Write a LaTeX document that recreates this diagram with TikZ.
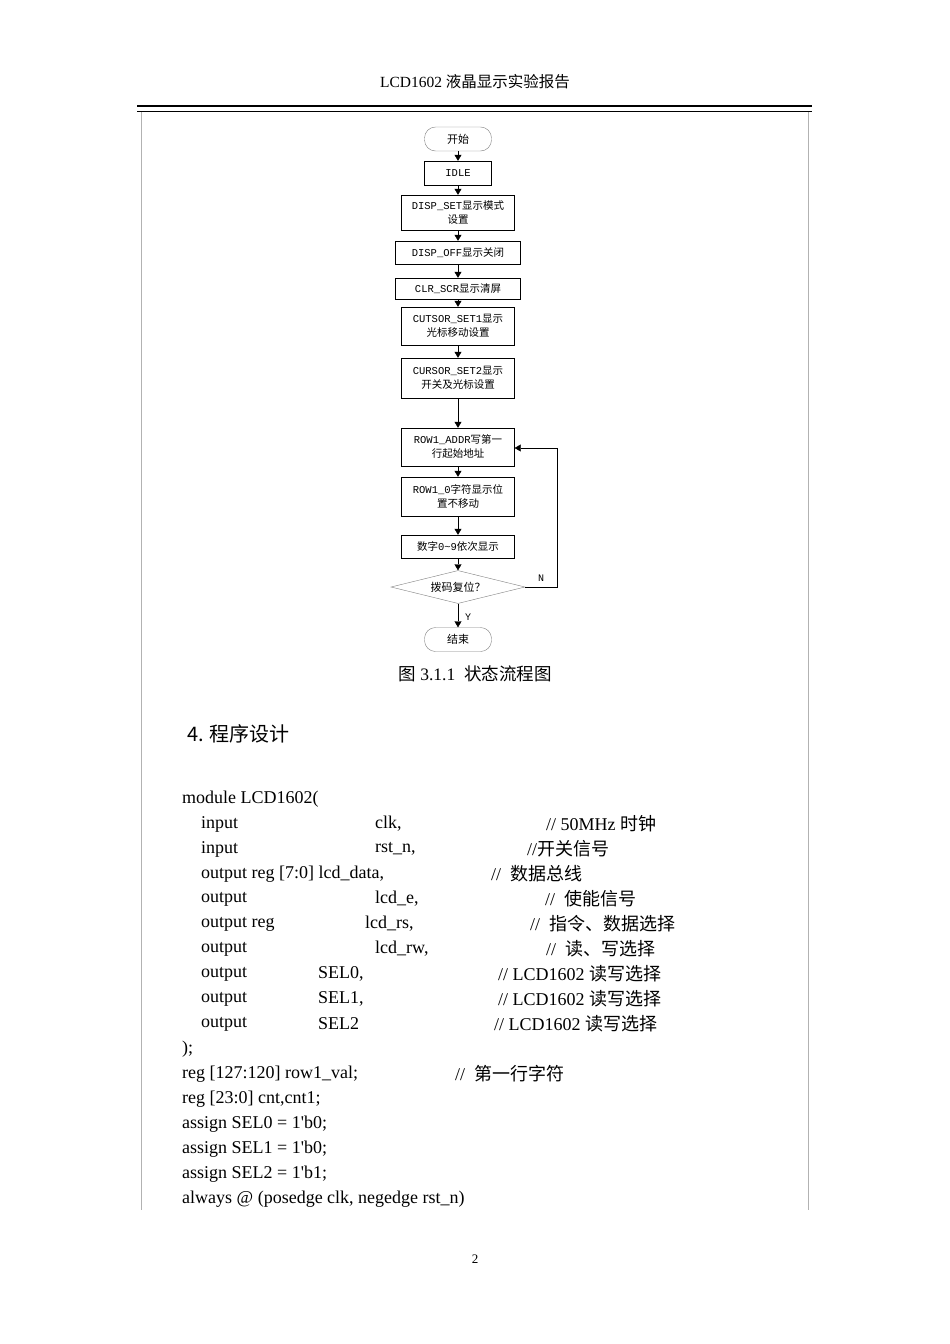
\documentclass[tikz,border=0pt]{standalone}
\usepackage{fontspec}
\setmainfont{Liberation Serif}
\newfontfamily\cjk{Noto Sans CJK SC}
\newfontfamily\fmono{Liberation Mono}
\newfontfamily\serifplain[Ligatures=ResetAll]{Liberation Serif}
\usetikzlibrary{arrows.meta,shapes.geometric}
\newcommand{\zh}[1]{{\cjk #1}}
\newcommand{\sq}{{\serifplain\symbol{39}}}
\begin{document}
\begin{tikzpicture}[x=1pt,y=-1pt,
  box/.style={draw,thin,minimum width=113pt,inner sep=1pt,align=center,font=\fmono\fontsize{10.5}{14}\selectfont},
  term/.style={draw,gray,rounded corners=11pt,minimum width=67pt,minimum height=24pt,font=\cjk\fontsize{11}{12}\selectfont,text=black},
  arr/.style={-{Triangle[length=6pt,width=7pt]},thin},
  code/.style={anchor=west,inner sep=0,font=\fontsize{18}{20}\selectfont},
  lbl/.style={font=\fmono\fontsize{10}{10}\selectfont,inner sep=0}]
\useasboundingbox (0,0) rectangle (950,1344);
\fill[white] (0,0) rectangle (950,1344);
\node[font=\fontsize{15.5}{18}\selectfont] (hdr) at (475,82) {LCD1602 \zh{液晶显示实验报告}};
\draw[line width=2pt] (137,106) -- (812,106);
\draw[line width=0.6pt] (137,111) -- (812,111);
\draw[gray!60,thin] (141,112) -- (141,1210) (808,112) -- (808,1210);
% flowchart
\node[term] (start) at (458,139) {开始};
\node[box,minimum width=67pt,minimum height=24pt] (idle) at (458,173) {IDLE};
\node[box,minimum height=35pt] (dset) at (458,212.5) {DISP\_SET\zh{显示模式}\\\zh{设置}};
\node[box,minimum width=125pt,minimum height=23pt] (doff) at (458,252.5) {DISP\_OFF\zh{显示关闭}};
\node[box,minimum width=125pt,minimum height=21pt] (clr) at (458,288.5) {CLR\_SCR\zh{显示清屏}};
\node[box,minimum height=38pt] (cs1) at (458,326) {CUTSOR\_SET1\zh{显示}\\\zh{光标移动设置}};
\node[box,minimum height=40pt] (cs2) at (458,378) {CURSOR\_SET2\zh{显示}\\\zh{开关及光标设置}};
\node[box,minimum height=38pt] (r1a) at (458,447) {ROW1\_ADDR\zh{写第一}\\\zh{行起始地址}};
\node[box,minimum height=39pt] (r10) at (458,496.5) {ROW1\_0\zh{字符显示位}\\\zh{置不移动}};
\node[box,minimum height=23pt] (num) at (458,546.5) {\zh{数字}0\textasciitilde9\zh{依次显示}};
\node[draw,gray,diamond,aspect=4,minimum width=134pt,minimum height=33pt,inner sep=0,text=black,font=\cjk\fontsize{11}{12}\selectfont] (dia) at (458,587) {拨码复位？};
\node[term] (end) at (458,639.5) {结束};
\draw[arr] (start) -- (idle);
\draw[arr] (idle) -- (dset);
\draw[arr] (dset) -- (doff);
\draw[arr] (doff) -- (clr);
\draw[arr] (clr) -- (cs1);
\draw[arr] (cs1) -- (cs2);
\draw[arr] (cs2) -- (r1a);
\draw[arr] (r1a) -- (r10);
\draw[arr] (r10) -- (num);
\draw[arr] (num) -- (dia);
\draw[arr] (dia) -- (end);
\coordinate (c1) at (557,587);
\coordinate (c2) at (557,448);
\draw[arr] (dia.east) -- (c1) -- (c2) -- (r1a.east |- c2);
\node[lbl] (nlab) at (541,578) {N};
\node[lbl] (ylab) at (468,617) {Y};
\node[font=\fontsize{17.5}{20}\selectfont] (cap) at (475,674) {\zh{图} 3.1.1\ \ \zh{状态流程图}};
\node[anchor=west,inner sep=0,font=\cjk\fontsize{20}{22}\selectfont] (sec) at (187,734) {4. 程序设计};
% code
\node[code] (l0) at (182,799) {module LCD1602(};
\node[code] (l1a) at (201,824) {input}; \node[code] (l1b) at (375,824) {clk,}; \node[code] (l1c) at (546,824) {// 50MHz \zh{时钟}};
\node[code] (l2a) at (201,849) {input}; \node[code] (l2b) at (375,849) {rst\_n,}; \node[code] (l2c) at (527,849) {//\zh{开关信号}};
\node[code] (l3a) at (201,874) {output reg [7:0] lcd\_data,}; \node[code] (l3c) at (491,874) {//\ \ \zh{数据总线}};
\node[code] (l4a) at (201,899) {output}; \node[code] (l4b) at (375,899) {lcd\_e,}; \node[code] (l4c) at (545,899) {//\ \ \zh{使能信号}};
\node[code] (l5a) at (201,924) {output reg}; \node[code] (l5b) at (365,924) {lcd\_rs,}; \node[code] (l5c) at (530,924) {//\ \ \zh{指令、数据选择}};
\node[code] (l6a) at (201,949) {output}; \node[code] (l6b) at (375,949) {lcd\_rw,}; \node[code] (l6c) at (546,949) {//\ \ \zh{读、写选择}};
\node[code] (l7a) at (201,974) {output}; \node[code] (l7b) at (318,974) {SEL0,}; \node[code] (l7c) at (498,974) {// LCD1602 \zh{读写选择}};
\node[code] (l8a) at (201,999) {output}; \node[code] (l8b) at (318,999) {SEL1,}; \node[code] (l8c) at (498,999) {// LCD1602 \zh{读写选择}};
\node[code] (l9a) at (201,1024) {output}; \node[code] (l9b) at (318,1024) {SEL2}; \node[code] (l9c) at (494,1024) {// LCD1602 \zh{读写选择}};
\node[code] (l10) at (182,1049) {);};
\node[code] (l11) at (182,1074) {reg [127:120] row1\_val;}; \node[code] (l11c) at (455,1074) {//\ \ \zh{第一行字符}};
\node[code] (l12) at (182,1099) {reg [23:0] cnt,cnt1;};
\node[code] (l13) at (182,1124) {assign SEL0 = 1\sq b0;};
\node[code] (l14) at (182,1149) {assign SEL1 = 1\sq b0;};
\node[code] (l15) at (182,1174) {assign SEL2 = 1\sq b1;};
\node[code] (l16) at (182,1199) {always @ (posedge clk, negedge rst\_n)};
\node[font=\fontsize{13}{15}\selectfont] (pg) at (475,1259) {2};
\end{tikzpicture}
\end{document}
